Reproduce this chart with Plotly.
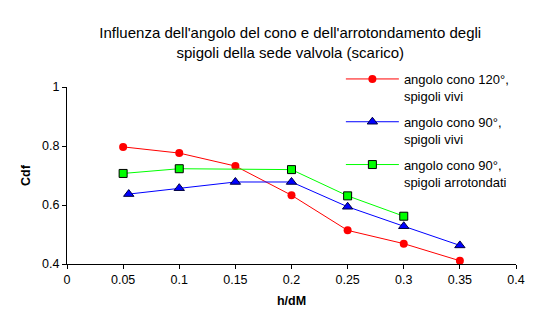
import plotly.graph_objects as go

x_red = [0.05, 0.10, 0.15, 0.20, 0.25, 0.30, 0.35]
y_red = [0.797, 0.776, 0.732, 0.633, 0.514, 0.469, 0.411]
x_blue = [0.055, 0.10, 0.15, 0.20, 0.25, 0.30, 0.35]
y_blue = [0.637, 0.657, 0.678, 0.678, 0.594, 0.528, 0.463]
x_green = [0.05, 0.10, 0.20, 0.25, 0.30]
y_green = [0.707, 0.723, 0.720, 0.631, 0.562]

names = ["angolo cono 120°,<br>spigoli vivi",
         "angolo cono 90°,<br>spigoli vivi",
         "angolo cono 90°,<br>spigoli arrotondati"]
x_ticks = [0, 0.05, 0.1, 0.15, 0.2, 0.25, 0.3, 0.35, 0.4]
x_tick_labels = ["0", "0.05", "0.1", "0.15", "0.2", "0.25", "0.3", "0.35", "0.4"]
y_ticks = [0.4, 0.6, 0.8, 1.0]
y_tick_labels = ["0.4", "0.6", "0.8", "1"]

FONT = "Liberation Sans, Arial, sans-serif"

fig = go.Figure()
fig.add_trace(go.Scatter(x=x_red, y=y_red, mode="lines+markers", name=names[0],
                         legendgroup="a",
                         line=dict(color="#FF0000", width=1),
                         marker=dict(symbol="circle", size=8, color="#FF0000")))
fig.add_trace(go.Scatter(x=x_blue, y=y_blue, mode="lines+markers", name=names[1],
                         legendgroup="b",
                         line=dict(color="#0000FF", width=1),
                         marker=dict(symbol="triangle-up", size=9, color="#0000FF",
                                     line=dict(color="#000040", width=1))))
fig.add_trace(go.Scatter(x=x_green, y=y_green, mode="lines+markers", name=names[2],
                         legendgroup="c",
                         line=dict(color="#00FF00", width=1),
                         marker=dict(symbol="square", size=8, color="#00FF00",
                                     line=dict(color="#000000", width=1))))

fig.update_layout(
    width=554, height=326,
    margin=dict(l=67, r=38, t=87, b=62),
    paper_bgcolor="white", plot_bgcolor="white",
    font=dict(family=FONT, size=12.5, color="black"),
    title=dict(text="Influenza dell'angolo del cono e dell'arrotondamento degli<br>spigoli della sede valvola (scarico)",
               x=0.524, xanchor="center", y=0.882, yanchor="middle",
               font=dict(size=15, color="black")),
    legend=dict(x=0.61, y=1.13, xanchor="left", yanchor="top", valign="top",
                bgcolor="rgba(0,0,0,0)", tracegroupgap=6,
                itemwidth=53, font=dict(size=13)),
    xaxis=dict(range=[0, 0.4], tickvals=x_ticks, ticktext=x_tick_labels,
               showgrid=False, zeroline=False, showline=True, linecolor="black",
               linewidth=1, ticks="outside", ticklen=4, tickcolor="black",
               title=dict(text="<b>h/dM</b>", standoff=10, font=dict(size=12.5))),
    yaxis=dict(range=[0.4, 1.0], tickvals=y_ticks, ticktext=y_tick_labels,
               showgrid=False, zeroline=False, showline=True, linecolor="black",
               linewidth=1, ticks="outside", ticklen=4, tickcolor="black",
               title=dict(text="<b>Cdf</b>", standoff=8, font=dict(size=12.5))),
)

fig.write_html("out.html")
